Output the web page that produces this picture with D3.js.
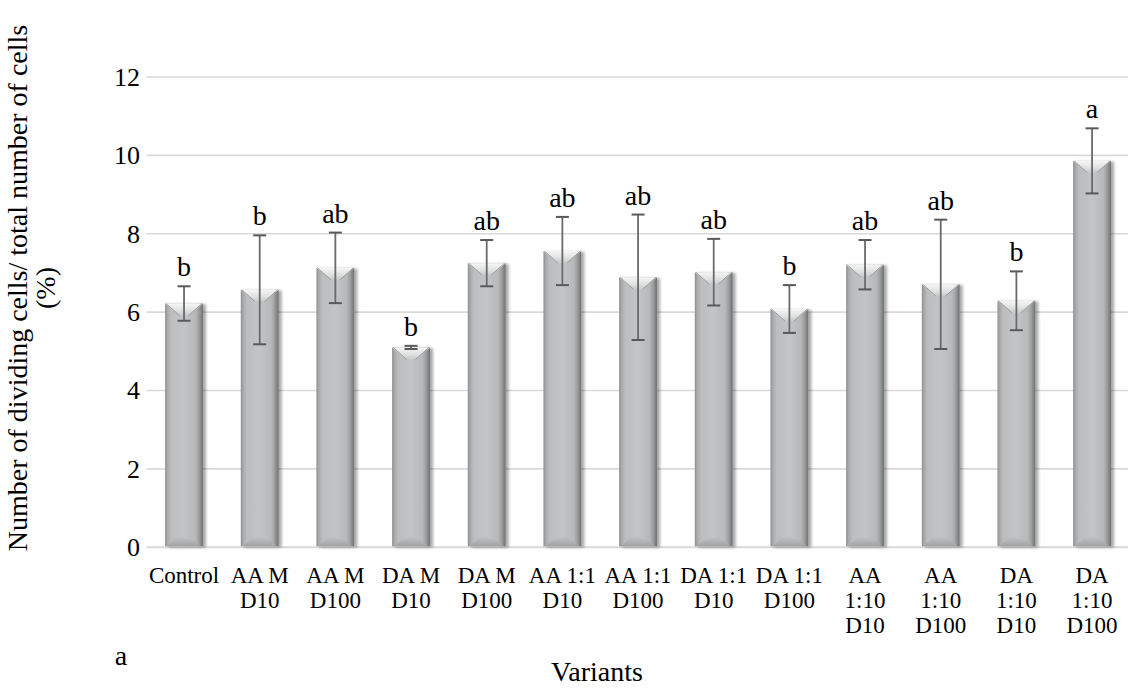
<!DOCTYPE html>
<html>
<head>
<meta charset="utf-8">
<script src="https://cdn.jsdelivr.net/npm/d3@7"></script>
<style>
  html, body { margin: 0; padding: 0; background: #fff; }
  svg { display: block; }
  text { font-family: "Liberation Serif", "Times New Roman", serif; fill: #000; }
</style>
</head>
<body>
<svg id="chart" width="1128" height="688"></svg>
<script>
// Mitotic index per variant (mean ± SD) with significance letters
const categories = [
  "Control", "AA M\nD10", "AA M\nD100", "DA M\nD10", "DA M\nD100",
  "AA 1:1\nD10", "AA 1:1\nD100", "DA 1:1\nD10", "DA 1:1\nD100",
  "AA\n1:10\nD10", "AA\n1:10\nD100", "DA\n1:10\nD10", "DA\n1:10\nD100"
];
const means  = [6.22, 6.57, 7.13, 5.10, 7.25, 7.56, 6.89, 7.02, 6.08, 7.21, 6.71, 6.29, 9.86];
const errors = [0.44, 1.39, 0.90, 0.04, 0.59, 0.87, 1.60, 0.85, 0.61, 0.63, 1.65, 0.75, 0.83];
const letters = ["b", "b", "ab", "b", "ab", "ab", "ab", "ab", "b", "ab", "ab", "b", "a"];
const yTicks = [0, 2, 4, 6, 8, 10, 12];

const svg = d3.select("#chart");
const W = 1128, H = 688;
const serif = "'Liberation Serif', 'Times New Roman', serif";
svg.append("rect").attr("width", W).attr("height", H).attr("fill", "#fff");

const x = d3.scaleBand()
  .domain(d3.range(categories.length))
  .range([146.2, 1129.9])
  .paddingInner(0.5)
  .paddingOuter(0.25);
const y = d3.scaleLinear().domain([0, 12]).range([547.3, 77]);

const defs = svg.append("defs");
const body = defs.append("linearGradient").attr("id", "barBody")
  .attr("x1", "0%").attr("x2", "100%").attr("y1", "0%").attr("y2", "0%");
[[0, "#8a8c8d"], [0.06, "#a7a9aa"], [0.16, "#bbbdbe"], [0.5, "#c2c4c5"],
 [0.8, "#b6b8b9"], [0.9, "#9a9c9d"], [0.95, "#838586"], [1, "#707273"]]
  .forEach(([o, c]) => body.append("stop").attr("offset", o).attr("stop-color", c));

const topFace = defs.append("linearGradient").attr("id", "barTop")
  .attr("x1", "0%").attr("x2", "0%").attr("y1", "0%").attr("y2", "100%");
[[0, "#f6f6f6"], [0.6, "#dedfdf"], [1, "#c6c8c9"]]
  .forEach(([o, c]) => topFace.append("stop").attr("offset", o).attr("stop-color", c));

const botFace = defs.append("linearGradient").attr("id", "barBot")
  .attr("x1", "0%").attr("x2", "0%").attr("y1", "0%").attr("y2", "100%");
[[0, "#bfc1c2"], [1, "#a0a2a3"]]
  .forEach(([o, c]) => botFace.append("stop").attr("offset", o).attr("stop-color", c));

const shadow = defs.append("filter").attr("id", "barShadow")
  .attr("x", "-20%").attr("y", "-5%").attr("width", "150%").attr("height", "110%");
shadow.append("feGaussianBlur").attr("in", "SourceAlpha").attr("stdDeviation", 1.8).attr("result", "b");
shadow.append("feOffset").attr("in", "b").attr("dx", 2.5).attr("dy", 1).attr("result", "o");
shadow.append("feComponentTransfer").attr("in", "o").attr("result", "s")
  .append("feFuncA").attr("type", "linear").attr("slope", 0.35);
const merge = shadow.append("feMerge");
merge.append("feMergeNode").attr("in", "s");
merge.append("feMergeNode").attr("in", "SourceGraphic");

// Gridlines
svg.append("g").selectAll("line").data(yTicks).join("line")
  .attr("x1", 146.5).attr("x2", W)
  .attr("y1", d => y(d)).attr("y2", d => y(d))
  .attr("stroke", "#d9d9d9").attr("stroke-width", d => d === 0 ? 2 : 1.6);

// Y axis labels
const yAxis = d3.axisLeft(y).tickValues(yTicks).tickSize(0).tickPadding(0);
const ya = svg.append("g").attr("transform", "translate(140,0)").call(yAxis);
ya.select(".domain").remove();
ya.attr("font-size", 26).attr("font-family", serif);
ya.selectAll("text").attr("fill", "#000");

// Bars
const bars = svg.append("g").selectAll("g").data(means).join("g")
  .attr("filter", "url(#barShadow)");
bars.each(function (d, i) {
  const g = d3.select(this);
  const x0 = x(i), w = x.bandwidth(), x1 = x0 + w, xc = x0 + w / 2;
  const top = y(d), bot = y(0) - 1;
  g.append("rect").attr("x", x0).attr("y", top).attr("width", w).attr("height", bot - top)
    .attr("fill", "url(#barBody)");
  const hb = 12, nb = w * 0.12;
  g.append("path")
    .attr("d", `M${x0},${top}L${x1},${top}L${xc + nb},${top + hb}L${xc - nb},${top + hb}Z`)
    .attr("fill", "url(#barTop)");
  g.append("path")
    .attr("d", `M${x0 + 1},${top}L${xc - nb},${top + hb}M${x1 - 1},${top}L${xc + nb},${top + hb}`)
    .attr("stroke", "#9a9c9d").attr("stroke-width", 1).attr("fill", "none");
  const hbb = 9, nbb = w * 0.3;
  g.append("path")
    .attr("d", `M${x0 + 2},${bot}L${x1 - 2},${bot}L${x1 - nbb},${bot - hbb}L${x0 + nbb},${bot - hbb}Z`)
    .attr("fill", "url(#barBot)");
});

// Error bars
const eb = svg.append("g").selectAll("g").data(means).join("g");
eb.each(function (d, i) {
  const g = d3.select(this);
  const xc = x(i) + x.bandwidth() / 2;
  const hi = y(d + errors[i]), lo = y(d - errors[i]);
  g.append("line").attr("x1", xc).attr("x2", xc).attr("y1", hi).attr("y2", lo)
    .attr("stroke", "#6a6a6a").attr("stroke-width", 1.8);
  [hi, lo].forEach(v => g.append("line")
    .attr("x1", xc - 6.5).attr("x2", xc + 6.5).attr("y1", v).attr("y2", v)
    .attr("stroke", "#595959").attr("stroke-width", 2));
});

// Significance letters
svg.append("g").selectAll("text").data(means).join("text")
  .attr("x", (d, i) => x(i) + x.bandwidth() / 2)
  .attr("y", (d, i) => y(d + errors[i]) - 10)
  .attr("text-anchor", "middle").attr("font-size", 28)
  .text((d, i) => letters[i]);

// Category labels
const cat = svg.append("g").selectAll("text").data(categories).join("text")
  .attr("x", (d, i) => x(i) + x.bandwidth() / 2)
  .attr("y", 583)
  .attr("text-anchor", "middle").attr("font-size", 23);
cat.each(function (d, i) {
  const t = d3.select(this);
  d.split("\n").forEach((line, k) => t.append("tspan")
    .attr("x", x(i) + x.bandwidth() / 2).attr("y", 583 + k * 25).text(line));
});

// Axis titles
svg.append("text").attr("x", 597).attr("y", 681).attr("text-anchor", "middle")
  .attr("font-size", 28).text("Variants");
svg.append("text").attr("x", 121).attr("y", 665).attr("text-anchor", "middle")
  .attr("font-size", 28).text("a");

const yt = svg.append("text").attr("transform", "translate(0,288) rotate(-90)")
  .attr("text-anchor", "middle").attr("font-size", 28);
yt.append("tspan").attr("x", 0).attr("y", 27).text("Number of dividing cells/ total number of cells");
yt.append("tspan").attr("x", 0).attr("y", 55).text("(%)");
</script>
</body>
</html>
